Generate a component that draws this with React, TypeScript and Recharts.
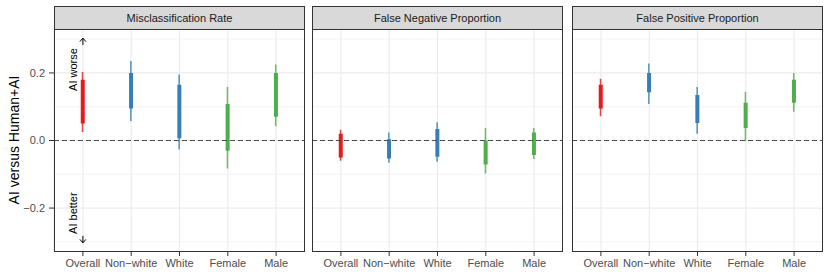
import React from "react";
import {
  ComposedChart,
  Bar,
  Cell,
  XAxis,
  YAxis,
  CartesianGrid,
  ReferenceLine,
  ReferenceDot,
} from "recharts";

const categories = ["Overall", "Non\u2212white", "White", "Female", "Male"];
const panelTitles = [
  "Misclassification Rate",
  "False Negative Proportion",
  "False Positive Proportion",
];

// [low, high] of the thin (outer) and thick (inner) intervals
const misOuter = [[0.025, 0.203], [0.058, 0.235], [-0.027, 0.195], [-0.083, 0.158], [0.042, 0.225]];
const misInner = [[0.05, 0.18], [0.095, 0.2], [0.007, 0.165], [-0.03, 0.108], [0.07, 0.2]];
const fnOuter = [[-0.06, 0.032], [-0.066, 0.024], [-0.063, 0.054], [-0.098, 0.037], [-0.055, 0.037]];
const fnInner = [[-0.05, 0.02], [-0.053, 0.004], [-0.048, 0.034], [-0.071, 0.0], [-0.043, 0.024]];
const fpOuter = [[0.072, 0.183], [0.108, 0.228], [0.02, 0.158], [-0.002, 0.144], [0.085, 0.2]];
const fpInner = [[0.095, 0.165], [0.143, 0.2], [0.052, 0.135], [0.037, 0.112], [0.112, 0.18]];

const yTicks = [-0.2, 0, 0.2];
const yMinor = [-0.3, -0.1, 0.1, 0.3];

const catColors = ["#E41A1C", "#377EB8", "#377EB8", "#4DAF4A", "#4DAF4A"];
const FONT = '"Liberation Sans", Arial, Helvetica, sans-serif';
const PANEL_W = 251;
const PLOT_TOP = 29;
const PLOT_H = 223;
const AXIS_W = 54;
const XPAD = { left: 4.75, right: 4.75 };

const fmtY = (v: number) =>
  v === 0 ? "0.0" : (v < 0 ? "\u2212" : "") + Math.abs(v).toFixed(1);

const ArrowUp = (p: any) => (
  <path
    d={`M${p.cx},${p.cy + 7}L${p.cx},${p.cy}M${p.cx - 3},${p.cy + 3.5}L${p.cx},${p.cy}L${p.cx + 3},${p.cy + 3.5}`}
    stroke="#000"
    strokeWidth={1}
    fill="none"
  />
);

const ArrowDown = (p: any) => (
  <path
    d={`M${p.cx},${p.cy - 7}L${p.cx},${p.cy}M${p.cx - 3},${p.cy - 3.5}L${p.cx},${p.cy}L${p.cx + 3},${p.cy - 3.5}`}
    stroke="#000"
    strokeWidth={1}
    fill="none"
  />
);

const sideText = (label: string) => (p: any) => (
  <text
    x={p.cx - 10}
    y={p.cy}
    transform={`rotate(-90 ${p.cx - 10} ${p.cy})`}
    textAnchor="middle"
    dominantBaseline="central"
    fontSize={11}
    fill="#000"
    fontFamily={FONT}
  >
    {label}
  </text>
);

interface PanelProps {
  title: string;
  outer: number[][];
  inner: number[][];
  left: number;
  showY?: boolean;
}

const Panel = ({ title, outer, inner, left, showY = false }: PanelProps) => {
  const data = categories.map((cat, i) => ({ cat, outer: outer[i], inner: inner[i] }));
  const yW = showY ? AXIS_W : 0;
  return (
    <>
      <div style={{ position: "absolute", left: left - yW, top: 0 }}>
        <ComposedChart
          width={PANEL_W + yW}
          height={277}
          data={data}
          margin={{ top: PLOT_TOP, right: 0, bottom: 0, left: 0 }}
        >
          <CartesianGrid
            xAxisId="outer"
            horizontalValues={yMinor}
            vertical={false}
            stroke="#EBEBEB"
            strokeWidth={0.6}
          />
          <CartesianGrid
            xAxisId="outer"
            horizontalValues={yTicks}
            stroke="#EBEBEB"
            strokeWidth={1.1}
          />
          <XAxis
            xAxisId="inner"
            dataKey="cat"
            type="category"
            orientation="top"
            padding={XPAD}
            height={0}
            hide
          />
          <XAxis
            xAxisId="outer"
            dataKey="cat"
            type="category"
            padding={XPAD}
            height={25}
            interval={0}
            tickSize={4}
            tickMargin={3}
            axisLine={false}
            tickLine={{ stroke: "#333333" }}
            tick={{ fill: "#4D4D4D", fontSize: 11, fontFamily: FONT }}
          />
          <YAxis
            domain={[-0.33, 0.33]}
            ticks={yTicks}
            allowDataOverflow
            hide={!showY}
            width={AXIS_W}
            tickSize={5}
            tickMargin={4}
            axisLine={false}
            tickLine={{ stroke: "#333333" }}
            tick={{ fill: "#4D4D4D", fontSize: 11, fontFamily: FONT }}
            tickFormatter={fmtY}
          />
          <ReferenceLine
            xAxisId="outer"
            y={0}
            stroke="#4D4D4D"
            strokeWidth={1.1}
            strokeDasharray="5 3"
          />
          <Bar xAxisId="outer" dataKey="outer" barSize={1.6} isAnimationActive={false}>
            {data.map((d, i) => (
              <Cell key={d.cat} fill={catColors[i]} fillOpacity={0.8} />
            ))}
          </Bar>
          <Bar xAxisId="inner" dataKey="inner" barSize={4} isAnimationActive={false}>
            {data.map((d, i) => (
              <Cell key={d.cat} fill={catColors[i]} />
            ))}
          </Bar>
          {showY && (
            <ReferenceDot xAxisId="outer" x={categories[0]} y={0.303} shape={ArrowUp} />
          )}
          {showY && (
            <ReferenceDot xAxisId="outer" x={categories[0]} y={-0.303} shape={ArrowDown} />
          )}
          {showY && (
            <ReferenceDot xAxisId="outer" x={categories[0]} y={0.21} shape={sideText("AI worse")} />
          )}
          {showY && (
            <ReferenceDot xAxisId="outer" x={categories[0]} y={-0.215} shape={sideText("AI better")} />
          )}
        </ComposedChart>
      </div>
      <div
        style={{
          position: "absolute",
          left,
          top: PLOT_TOP,
          width: PANEL_W,
          height: PLOT_H,
          border: "1px solid #333333",
          boxSizing: "border-box",
          pointerEvents: "none",
        }}
      />
      <div
        style={{
          position: "absolute",
          left,
          top: 6,
          width: PANEL_W,
          height: 24,
          border: "1px solid #333333",
          boxSizing: "border-box",
          background: "#D9D9D9",
          color: "#1A1A1A",
          fontSize: 11,
          lineHeight: "22px",
          textAlign: "center",
          fontFamily: FONT,
        }}
      >
        {title}
      </div>
    </>
  );
};

export default function App() {
  return (
    <div
      style={{
        position: "absolute",
        left: 0,
        top: 0,
        width: 830,
        height: 277,
        background: "#FFFFFF",
        fontFamily: FONT,
      }}
    >
      <Panel title={panelTitles[0]} outer={misOuter} inner={misInner} left={54} showY />
      <Panel title={panelTitles[1]} outer={fnOuter} inner={fnInner} left={312} />
      <Panel title={panelTitles[2]} outer={fpOuter} inner={fpInner} left={572} />
      <div
        style={{
          position: "absolute",
          left: 14,
          top: 140,
          transform: "translate(-50%, -50%) rotate(-90deg)",
          whiteSpace: "nowrap",
          fontSize: 14,
          color: "#000",
        }}
      >
        AI versus Human+AI
      </div>
    </div>
  );
}
